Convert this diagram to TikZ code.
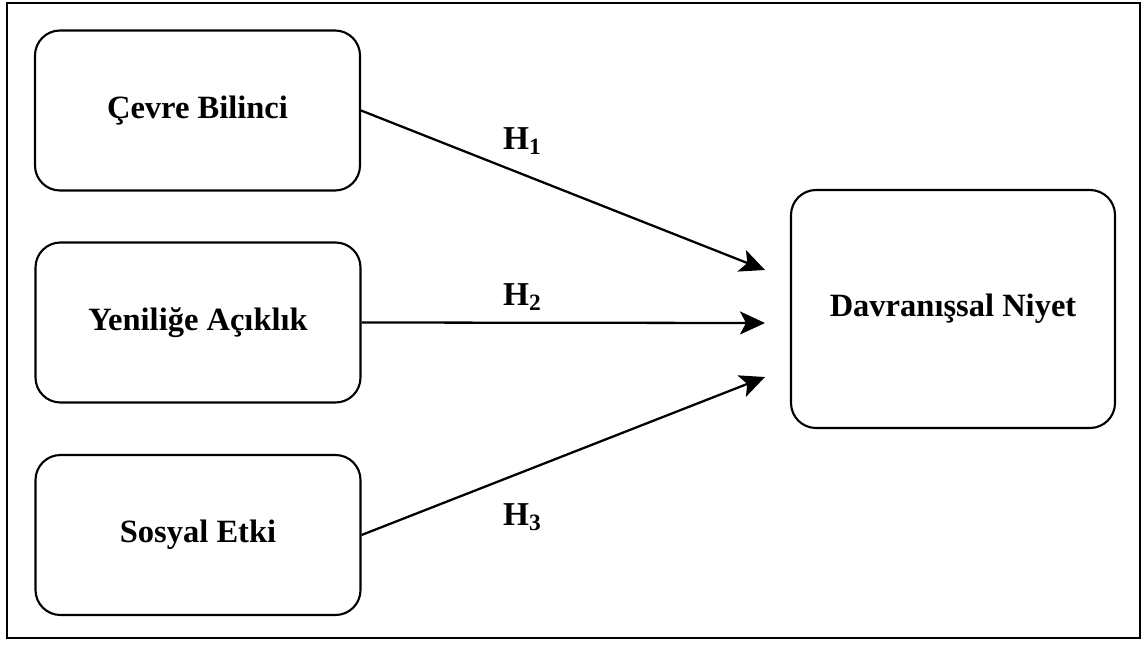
\documentclass[tikz,border=0pt]{standalone}
\usepackage{fontspec}
\setmainfont{Liberation Serif}
\usetikzlibrary{arrows.meta}

\begin{document}
\begin{tikzpicture}[-{Stealth[length=5mm,width=4.6mm,inset=1.2mm]}, line width=1.3pt,
  konstrukt/.style={draw, line width=1.2pt, rounded corners=0.5cm, minimum width=6.5cm, minimum height=3.2cm, font=\fontsize{18.5}{22}\selectfont\bfseries},
  hipotez/.style={font=\fontsize{19}{22}\selectfont\bfseries}]
  \useasboundingbox (0,0) rectangle (22.96,12.92);
  \draw[-, line width=1pt] (0.14,0.16) rectangle (22.8,12.86);

  \node[konstrukt] (CB) at (3.95,10.71) {Çevre Bilinci};
  \node[konstrukt] (YA) at (3.96,6.47) {Yeniliğe Açıklık};
  \node[konstrukt] (SE) at (3.96,2.22) {Sosyal Etki};
  \node[konstrukt, minimum width=6.48cm, minimum height=4.76cm] (DN) at (19.06,6.74) {Davranışsal Niyet};

  \coordinate (h1) at (15.3,7.52);
  \coordinate (h2) at (15.3,6.46);
  \coordinate (h3) at (15.3,5.38);

  \draw (CB.east) -- (h1);
  \draw (YA.east) -- (h2);
  \draw (SE.east) -- (h3);

  \node[hipotez] (H1) at (10.45,10.1) {H\textsubscript{1}};
  \node[hipotez] (H2) at (10.45,6.98) {H\textsubscript{2}};
  \node[hipotez] (H3) at (10.45,2.58) {H\textsubscript{3}};
\end{tikzpicture}
\end{document}
